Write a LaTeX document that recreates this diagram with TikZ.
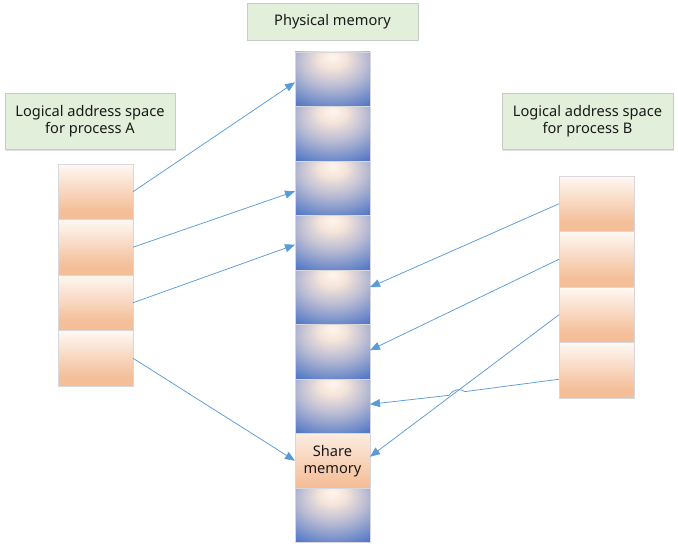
\documentclass[tikz,border=0pt]{standalone}
\usepackage{fontspec}
\setmainfont{Noto Sans}
\usetikzlibrary{arrows.meta,calc,shadows}
\definecolor{lblfill}{RGB}{226,239,218}
\definecolor{lbldraw}{RGB}{200,204,200}
\definecolor{blkdraw}{RGB}{215,215,220}
\definecolor{arrowc}{RGB}{91,155,213}
\pgfdeclareradialshading{physshade}{\pgfpoint{0bp}{21bp}}{%
  color(0bp)=(rgb,255:red,255;green,246;blue,238);
  color(9bp)=(rgb,255:red,245;green,228;blue,218);
  color(23bp)=(rgb,255:red,185;green,187;blue,211);
  color(45bp)=(rgb,255:red,70;green,112;blue,196);
  color(100bp)=(rgb,255:red,70;green,112;blue,196)}
\pgfdeclareverticalshading{peachshade}{100bp}{%
  color(0bp)=(rgb,255:red,244;green,190;blue,152);
  color(33bp)=(rgb,255:red,244;green,190;blue,152);
  color(75bp)=(rgb,255:red,254;green,248;blue,244);
  color(100bp)=(rgb,255:red,254;green,248;blue,244)}
\pgfdeclareverticalshading{shareshade}{100bp}{%
  color(0bp)=(rgb,255:red,244;green,188;blue,148);
  color(25bp)=(rgb,255:red,244;green,188;blue,148);
  color(75bp)=(rgb,255:red,252;green,236;blue,225);
  color(100bp)=(rgb,255:red,252;green,236;blue,225)}
\tikzset{
  lbl/.style={draw=lbldraw, line width=0.8pt, fill=lblfill, align=center,
    font=\fontsize{14.6}{17}\selectfont, text=black!90,
    drop shadow={shadow xshift=1.2pt, shadow yshift=-1.5pt, fill=black, opacity=0.12},
    inner sep=0pt},
  phys/.style={draw=blkdraw, line width=0.6pt, shading=physshade,
    minimum width=75pt, minimum height=54.5pt, inner sep=0pt, outer sep=0pt},
  logb/.style={draw=blkdraw, line width=0.6pt, shading=peachshade,
    minimum width=75pt, minimum height=55.5pt, inner sep=0pt, outer sep=0pt},
  sharebox/.style={draw=blkdraw, line width=0.6pt, shading=shareshade,
    minimum width=75pt, minimum height=54.5pt, inner sep=0pt, outer sep=0pt,
    align=center, font=\fontsize{14.6}{17}\selectfont, text=black!90},
  conn/.style={draw=arrowc, line width=0.75pt, -{Triangle[length=10pt,width=8pt]}}
}
\begin{document}
\begin{tikzpicture}[x=1pt,y=-1pt]
\useasboundingbox (0,0) rectangle (678,551);
% labels
\node[lbl, minimum width=171pt, minimum height=37pt] (lp) at (332.5,21.5) {Physical memory};
\node[lbl, minimum width=170pt, minimum height=56pt] (la) at (90,121) {Logical address space\\for process A};
\node[lbl, minimum width=171pt, minimum height=56pt] (lb) at (587.5,121) {Logical address space\\for process B};
% physical memory column
\foreach \i in {1,...,7}{
  \node[phys] (p\i) at (332.5,{52+(\i-0.5)*54.5}) {};
}
\node[sharebox] (p8) at (332.5,{52+7.5*54.5}) {Share\\memory};
\node[phys] (p9) at (332.5,{52+8.5*54.5}) {};
% process A
\foreach \i in {1,...,4}{
  \node[logb] (a\i) at (95.5,{164+(\i-0.5)*55.5}) {};
}
% process B
\foreach \i in {1,...,4}{
  \node[logb] (b\i) at (596.5,{176+(\i-0.5)*55.5}) {};
}
% connectors from A
\draw[conn] (a1.east) -- ($(p1.west)+(0,3)$);
\draw[conn] (a2.east) -- ($(p3.west)+(0,3)$);
\draw[conn] (a3.east) -- ($(p4.west)+(0,2)$);
\draw[conn] (a4.east) -- (p8.west);
% connectors from B
\draw[conn] (b1.west) -- ($(p5.east)+(0,-10)$);
\draw[conn] (b2.west) -- ($(p6.east)+(0,-1.5)$);
\draw[conn] (b3.west) -- ($(p8.east)+(0,-4)$);
\coordinate (b4s) at ($(b4.west)+(0,9)$);
\coordinate (h1) at (465,391.6);
\coordinate (h2) at (449,395.3);
\draw[conn] (b4s) -- (h1) .. controls (460,388.5) and (454,388.5) .. (h2) -- ($(p7.east)+(0,-2)$);
\end{tikzpicture}
\end{document}
